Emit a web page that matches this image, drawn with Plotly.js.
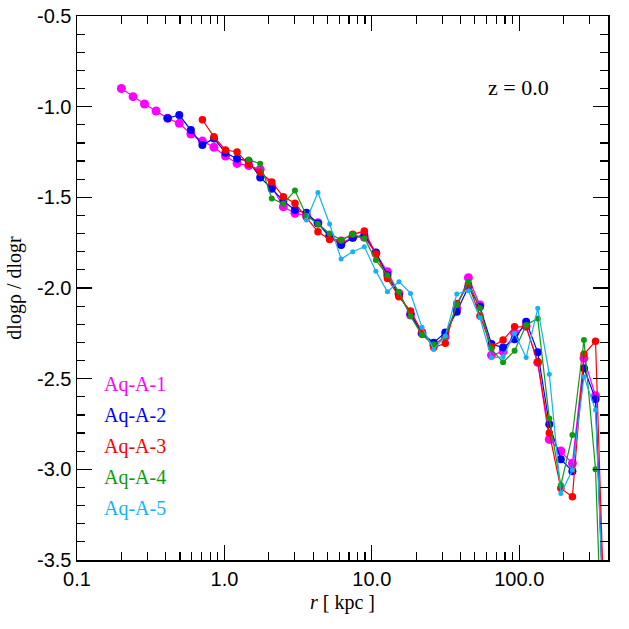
<!DOCTYPE html>
<html>
<head>
<meta charset="utf-8">
<script src="https://cdn.plot.ly/plotly-3.0.1.min.js"></script>
<style>
  html, body { margin: 0; padding: 0; background: #fff; }
  #chart { width: 629px; height: 629px; }
</style>
</head>
<body>
<div id="chart"></div>
<script>
// radial bins (kpc), shared by all halos
var radius = [0.200, 0.240, 0.287, 0.344, 0.412, 0.494, 0.592, 0.709, 0.849, 1.017,
              1.219, 1.460, 1.749, 2.095, 2.51, 3.01, 3.60, 4.31, 5.17, 6.19,
              7.42, 8.89, 10.65, 12.76, 15.28, 18.3, 21.9, 26.3, 31.5, 37.7,
              45.2, 54.1, 64.8, 77.7, 93.0, 111.4, 133.5, 159.9, 191.5, 229.4,
              274.8, 329.2, 394.4];

var names = ['Aq-A-1', 'Aq-A-2', 'Aq-A-3', 'Aq-A-4', 'Aq-A-5'];
var colors = ['#ff00ff', '#0000ff', '#ff0000', '#109a10', '#14b2f5'];

var slopeA1 = [-0.90, -0.945, -0.985, -1.024, -1.064, -1.092, -1.151, -1.19, -1.224, -1.272,
               -1.313, -1.325, -1.346, -1.44, -1.552, -1.588, -1.60, -1.64, -1.71, -1.754,
               -1.72, -1.72, -1.809, -1.91, -2.03, -2.149, -2.25, -2.315, -2.269, -2.112,
               -1.943, -2.094, -2.37, -2.351, -2.25, -2.21, -2.41, -2.835, -2.899, -2.967,
               -2.388, -2.594, -4.4];
var slopeA2 = [null, null, null, null, -1.064, -1.046, -1.129, -1.212, -1.175, -1.254,
               -1.287, -1.30, -1.39, -1.452, -1.52, -1.57, -1.585, -1.644, -1.717, -1.763,
               -1.723, -1.708, -1.804, -1.93, -2.04, -2.14, -2.25, -2.302, -2.245, -2.131,
               -1.993, -2.103, -2.309, -2.328, -2.283, -2.186, -2.355, -2.752, -2.945, -3.01,
               -2.443, -2.613, -4.3];
var slopeA3 = [null, null, null, null, null, null, null, -1.072, -1.166, -1.239,
               -1.25, -1.318, -1.362, -1.415, -1.497, -1.533, -1.61, -1.69, -1.732, -1.736,
               -1.704, -1.686, -1.813, -1.947, -2.048, -2.127, -2.241, -2.328, -2.305, -2.085,
               -1.98, -2.155, -2.324, -2.287, -2.214, -2.214, -2.41, -2.80, -3.105, -3.151,
               -2.366, -2.293, -4.3];
var slopeA4 = [null, null, null, null, null, null, null, null, null, null,
               null, -1.292, -1.315, -1.506, -1.535, -1.463, -1.601, -1.647, -1.699, -1.736,
               -1.704, -1.726, -1.846, -1.929, -2.021, -2.155, -2.26, -2.311, -2.27, -2.094,
               -1.965, -2.112, -2.337, -2.41, -2.346, -2.204, -2.168, -2.719, -3.087, -2.811,
               -2.287, -2.999, -4.8];
var slopeA5 = [null, null, null, null, null, null, null, null, null, null,
               null, null, null, null, null, null, -1.625, -1.473, -1.647, -1.84,
               -1.80, -1.772, -1.907, -2.021, -1.965, -2.03, -2.217, -2.339, -2.265, -2.033,
               -2.015, -2.164, -2.385, -2.379, -2.25, -2.383, -2.112, -2.475, -3.133, -3.004,
               -2.489, -2.673, -4.3];

var xTicks = [0.1, 1, 10, 100];
var xTickText = ['0.1', '1.0', '10.0', '100.0'];
var yTicks = [-3.5, -3.0, -2.5, -2.0, -1.5, -1.0, -0.5];
var yTickText = ['-3.5', '-3.0', '-2.5', '-2.0', '-1.5', '-1.0', '-0.5'];

var allSlopes = [slopeA1, slopeA2, slopeA3, slopeA4, slopeA5];
var markerSizes = [9, 8, 7.5, 6, 5];

var serif = 'Liberation Serif, Times New Roman, serif';
var sans = 'Liberation Sans, Arial, Helvetica, sans-serif';

var traces = [];
for (var i = 0; i < allSlopes.length; i++) {
  traces.push({
    x: radius,
    y: allSlopes[i],
    mode: 'lines+markers',
    type: 'scatter',
    name: names[i],
    line: {color: colors[i], width: 1.2},
    marker: {color: colors[i], size: markerSizes[i]},
    showlegend: false
  });
}

// minor ticks 2..9 in each decade
var minorX = [];
for (var d = -1; d <= 2; d++) {
  for (var k = 2; k <= 9; k++) {
    var v = k * Math.pow(10, d);
    if (v < 400) minorX.push(v);
  }
}

var notes = [{
  text: 'z = 0.0',
  xref: 'paper', yref: 'paper',
  x: 0.832, y: 0.868,
  xanchor: 'center', yanchor: 'middle',
  showarrow: false,
  font: {family: serif, size: 22, color: '#000'}
}];
for (var j = 0; j < names.length; j++) {
  notes.push({
    text: names[j],
    xref: 'paper', yref: 'paper',
    x: 0.048, y: 0.3235 - j * 0.057,
    xanchor: 'left', yanchor: 'middle',
    showarrow: false,
    font: {family: serif, size: 20, color: colors[j]}
  });
}

var layout = {
  width: 629,
  height: 629,
  margin: {l: 77, r: 21, t: 16, b: 69},
  paper_bgcolor: '#fff',
  plot_bgcolor: '#fff',
  showlegend: false,
  xaxis: {
    type: 'log',
    range: [-1, Math.log10(400)],
    tickmode: 'array',
    tickvals: xTicks,
    ticktext: xTickText,
    ticks: 'inside',
    ticklen: 15,
    tickwidth: 1.2,
    tickcolor: '#000',
    showline: true,
    linecolor: '#000',
    linewidth: 1.5,
    mirror: 'allticks',
    showgrid: false,
    zeroline: false,
    tickfont: {family: sans, size: 20, color: '#000'},
    minor: {tickmode: 'array', tickvals: minorX, ticks: 'inside', ticklen: 8, tickwidth: 1.2, tickcolor: '#000', showgrid: false},
    title: {text: '<i>r</i> [ kpc ]', font: {family: serif, size: 20, color: '#000'}, standoff: 6}
  },
  yaxis: {
    range: [-3.5, -0.5],
    tickmode: 'array',
    tickvals: yTicks,
    ticktext: yTickText,
    ticks: 'inside',
    ticklen: 15,
    tickwidth: 1.2,
    tickcolor: '#000',
    showline: true,
    linecolor: '#000',
    linewidth: 1.5,
    mirror: 'allticks',
    showgrid: false,
    zeroline: false,
    tickfont: {family: sans, size: 20, color: '#000'},
    minor: {dtick: 0.1, tick0: -0.5, ticks: 'inside', ticklen: 8, tickwidth: 1.2, tickcolor: '#000', showgrid: false},
    title: {text: 'dlogρ / dlogr', font: {family: serif, size: 20, color: '#000'}, standoff: 10}
  },
  annotations: notes
};

Plotly.newPlot('chart', traces, layout, {displayModeBar: false, staticPlot: true});
</script>
</body>
</html>
